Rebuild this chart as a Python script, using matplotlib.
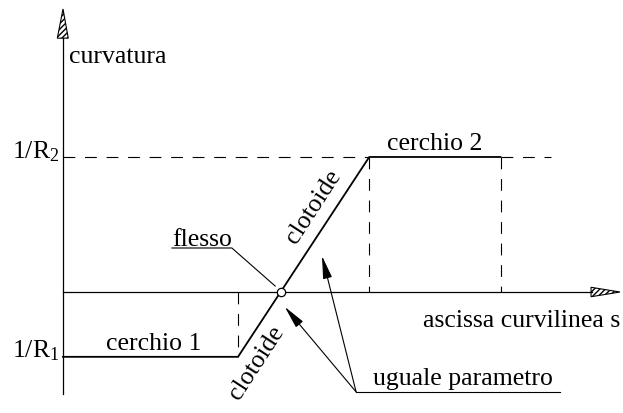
import matplotlib
matplotlib.use("Agg")
import matplotlib.pyplot as plt
from matplotlib.patches import Polygon

# dati del diagramma (ascissa s, curvatura k)
k1 = -0.48          # 1/R1
k2 = 1.0            # 1/R2
s_pts = [0, 4, 7, 10]             # inizio cerchio 1, fine cerchio 1, inizio/fine cerchio 2
k_pts = [k1, k1, k2, k2]
s_flesso = s_pts[1] + (s_pts[2] - s_pts[1]) * (-k1) / (k2 - k1)

tick_labels = [r"1/R$_2$", r"1/R$_1$"]
tick_values = [k2, k1]

plt.rcParams['font.family'] = ['Liberation Serif', 'DejaVu Serif']
plt.rcParams['mathtext.fontset'] = 'custom'
plt.rcParams['mathtext.rm'] = 'Liberation Serif'
plt.rcParams['mathtext.it'] = 'Liberation Serif:italic'
plt.rcParams['lines.scale_dashes'] = False
FS = 18.5

fig = plt.figure(figsize=(6.23, 4.14), dpi=100)
ax = fig.add_axes([0, 0, 1, 1])
ax.set_xlim(-1.44, 12.8)
ax.set_ylim(-0.896, 2.17)
ax.axis('off')

# assi
ax.plot([0, 0], [-0.756, 1.88], color='black', lw=0.9)
ax.plot([0, 12.1], [0, 0], color='black', lw=0.9)
# frecce tratteggiate degli assi
ax.add_patch(Polygon([[-0.13, 1.88], [0.12, 1.88], [0, 2.096]], closed=True,
                     facecolor='white', edgecolor='black', hatch='//////', lw=0.8))
ax.add_patch(Polygon([[12.07, 0.035], [12.07, -0.035], [12.73, 0]], closed=True,
                     facecolor='white', edgecolor='black', hatch='//////', lw=0.8))

# linee tratteggiate
dash = dict(color='black', lw=0.8, dashes=(8.5, 7))
ax.plot([0, s_pts[2]], [k2, k2], **dash)
ax.plot([s_pts[3], 11.15], [k2, k2], **dash)
ax.plot([s_pts[1], s_pts[1]], [0, k1], **dash)
ax.plot([s_pts[2], s_pts[2]], [k2, 0], **dash)
ax.plot([s_pts[3], s_pts[3]], [k2, 0], **dash)

# diagramma della curvatura
ax.plot(s_pts, k_pts, color='black', lw=1.3)
ax.plot([s_flesso], [0], 'o', ms=6, mfc='white', mec='black', mew=0.9)

# etichette
ax.text(0.14, 1.70, "curvatura", fontsize=FS, ha='left', va='baseline')
for lab, val in zip(tick_labels, tick_values):
    ax.text(-0.08, val, lab, fontsize=FS, ha='right', va='baseline')
ax.text(8.5, 1.06, "cerchio 2", fontsize=FS, ha='center', va='baseline')
ax.text(2.08, -0.42, "cerchio 1", fontsize=FS, ha='center', va='baseline')
ax.text(12.73, -0.25, "ascissa curvilinea s", fontsize=FS, ha='right', va='baseline')

ax.text(2.49, 0.345, "flesso", fontsize=FS, ha='left', va='baseline')
ax.plot([2.49, 3.86, 4.85], [0.326, 0.326, 0.044], color='black', lw=0.8)

ax.text(5.72, 0.64, "clotoide", fontsize=FS, ha='center', va='center',
        rotation=57, rotation_mode='anchor')
ax.text(4.43, -0.52, "clotoide", fontsize=FS, ha='center', va='center',
        rotation=57, rotation_mode='anchor')

ax.text(7.09, -0.68, "uguale parametro", fontsize=FS, ha='left', va='baseline')
ax.plot([6.70, 11.36], [-0.74, -0.74], color='black', lw=0.8)
for tx, ty in [(5.07, -0.11), (5.92, 0.267)]:
    ax.annotate("", xy=(tx, ty), xytext=(6.70, -0.74),
                arrowprops=dict(arrowstyle='-|>,head_length=1.0,head_width=0.2',
                                color='black', lw=0.8, shrinkA=0, shrinkB=0,
                                mutation_scale=14))

fig.savefig("out.png", dpi=100, facecolor='white')
